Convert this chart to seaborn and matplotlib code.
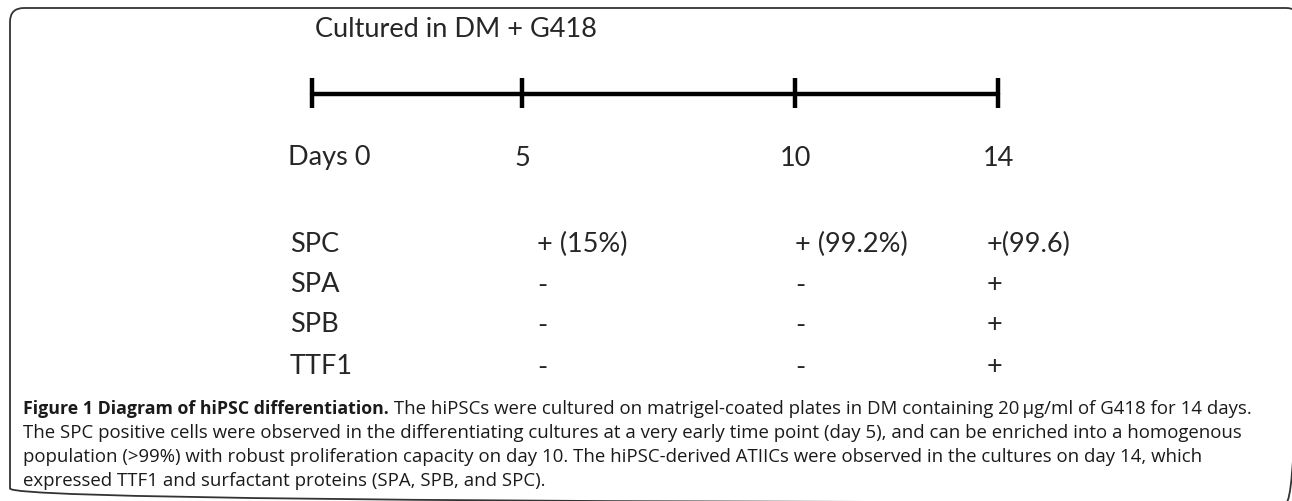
import matplotlib
matplotlib.use("Agg")
from matplotlib import pyplot as plt
from matplotlib.patches import FancyBboxPatch
import seaborn as sns
import pandas as pd

# timeline
days = [0, 5, 10, 14]
day_labels = ["Days 0", "5", "10", "14"]
header = "Cultured in DM + G418"

# marker table
markers = ["SPC", "SPA", "SPB", "TTF1"]
day5 = ["+ (15%)", "-", "-", "-"]
day10 = ["+ (99.2%)", "-", "-", "-"]
day14 = ["+(99.6)", "+", "+", "+"]

caption_bold = "Figure 1 Diagram of hiPSC differentiation."
caption_lines = [
    " The hiPSCs were cultured on matrigel-coated plates in DM containing 20\u2009\u00b5g/ml of G418 for 14 days.",
    "The SPC positive cells were observed in the differentiating cultures at a very early time point (day 5), and can be enriched into a homogenous",
    "population (>99%) with robust proliferation capacity on day 10. The hiPSC-derived ATIICs were observed in the cultures on day 14, which",
    "expressed TTF1 and surfactant proteins (SPA, SPB, and SPC).",
]

# layout (pixel coords)
tick_x = [312, 522, 795, 998]
line_y = 94
col_x = [537, 795, 987]
row_y = [244, 285, 325, 367]

sns.set_theme(style="white")
diag_font = ["Lato", "DejaVu Sans"]
cap_font = ["Liberation Sans Narrow", "Open Sans", "DejaVu Sans"]
fs = 19.5

fig = plt.figure(figsize=(12.92, 5.01), dpi=100)
ax = fig.add_axes([0, 0, 1, 1])

# rounded frame (bottom and right edges run just past the image)
frame = FancyBboxPatch((10, 8), 1290, 494.5, boxstyle="round,pad=0,rounding_size=14",
                       fc="none", ec="#333333", lw=1.3)
ax.add_patch(frame)

tl = pd.DataFrame({"day": days, "x": tick_x, "y": [line_y] * len(days)})
sns.lineplot(data=tl, x="x", y="y", color="black", lw=3.2, ax=ax, legend=False)
ax.vlines(tl["x"], line_y - 16, line_y + 14, color="black", lw=3.2)
ax.set_xlim(0, 1292)
ax.set_ylim(501, 0)
ax.axis("off")

ax.text(315, 29, header, fontsize=fs, family=diag_font, va="center", ha="left")
ax.text(288, 158, day_labels[0], fontsize=fs, family=diag_font, va="center", ha="left")
for x, lab in zip(tick_x[1:], day_labels[1:]):
    ax.text(x, 158, lab, fontsize=fs, family=diag_font, va="center", ha="center")

for i, m in enumerate(markers):
    ax.text(290, row_y[i], m, fontsize=fs, family=diag_font, va="center", ha="left")
    for x, col in zip(col_x, [day5, day10, day14]):
        ax.text(x, row_y[i], col[i], fontsize=fs, family=diag_font, va="center", ha="left")

# caption
cap_y = [414, 438, 462, 486]
cs = 13.4
t = ax.text(23, cap_y[0], caption_bold, fontsize=12.8, family=cap_font, weight="bold",
            va="baseline", ha="left", color="#1a1a1a")
ax.annotate(caption_lines[0], xy=(1, 0), xycoords=t, va="bottom", ha="left",
            fontsize=cs, family=cap_font, color="#1a1a1a")
for y, line in zip(cap_y[1:], caption_lines[1:]):
    ax.text(23, y, line, fontsize=cs, family=cap_font, va="baseline", ha="left",
            color="#1a1a1a")

fig.savefig("out.png", dpi=100)
